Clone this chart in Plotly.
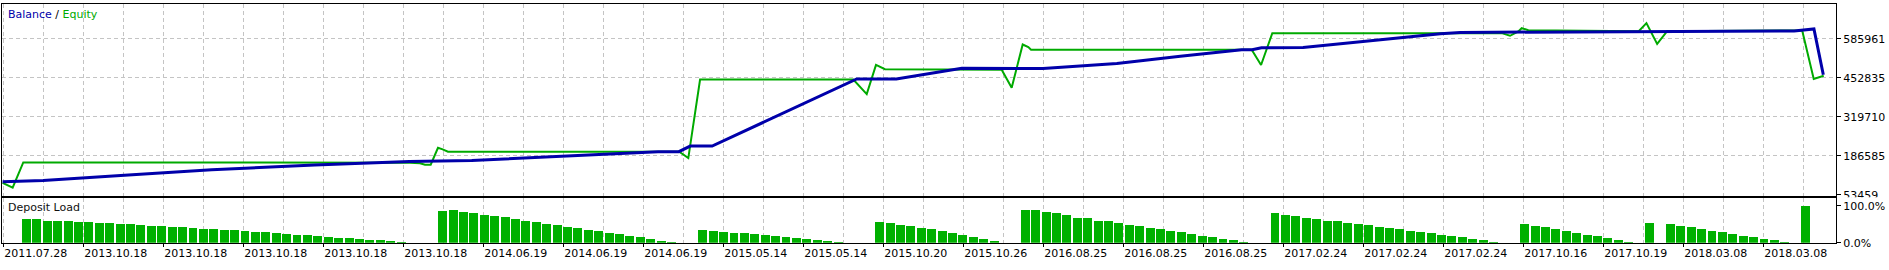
import numpy as np
import plotly.graph_objects as go

# ---------------- data ----------------
# x = deal slot index (one slot per deposit-load bar)
bal_x = [-2.3, 1.6, 9.8, 17.8, 27.7, 34.8, 36.8, 42.8, 50.8, 56.7, 60.7, 62.7, 63.8, 65.9,
         79.8, 83.6, 87.8, 89.9, 97.7, 104.8, 110.9, 116.8, 117.8, 118.7, 122.7, 128.8,
         135.9, 137.8, 147.4, 151.7, 169.9, 171.8, 172.7]
bal_y = [98500, 102000, 121000, 139000, 155600, 164300, 167600, 170900, 184300, 194200,
         200900, 200900, 219900, 219900, 449500, 449500, 475100, 486100, 485000, 501800,
         527100, 549400, 549400, 556000, 557000, 579300, 603600, 608300, 610300, 611600,
         613600, 620200, 463800]

eq_x = [-2.3, -1.33, -0.31, 34.75, 36.86, 37.82, 38.30, 38.85, 39.55, 40.00, 40.51, 62.74,
        63.61, 64.74, 79.47, 80.76, 81.65, 82.51, 93.73, 94.69, 95.75, 96.29, 96.55, 117.76,
        118.66, 119.74, 141.79, 142.59, 143.39, 143.71, 144.35, 154.96, 155.70, 156.73,
        157.69, 170.67, 171.78, 172.74]
eq_y = [94400, 77800, 164300, 164300, 163300, 161000, 156600, 156600, 214200, 208900,
        200900, 200900, 178900, 447200, 447200, 397300, 497100, 482800, 480500, 419600,
        567000, 558300, 549400, 549400, 497100, 605900, 605900, 596900, 611600, 622600,
        615900, 612600, 640200, 569300, 612600, 614900, 449500, 460500]

deposit_load = (
    [64, 64, 61, 59, 59, 57, 56, 53, 53, 51, 51, 48, 46, 46, 43, 43, 40, 38, 38, 35, 35, 32,
     30, 30, 27, 24, 22, 22, 19, 17, 14, 14, 11, 9, 9, 6, 3.5]
    + [0, 0, 0]
    + [88, 90, 85, 82, 77, 72, 70, 64, 61, 56, 51, 48, 43, 40, 35, 32, 27, 25, 19, 17, 11, 6, 3.5]
    + [0, 0]
    + [35, 32, 30, 27, 27, 24, 22, 19, 17, 14, 11, 9, 6, 3.5]
    + [0, 0, 0]
    + [56, 53, 48, 46, 40, 38, 32, 27, 22, 17, 11, 6]
    + [0, 0]
    + [90, 90, 85, 80, 75, 69, 67, 61, 59, 54, 48, 46, 40, 38, 32, 30, 25, 19, 17, 11, 9, 3.5]
    + [0, 0]
    + [80, 77, 72, 69, 64, 61, 59, 54, 51, 48, 43, 40, 38, 32, 30, 27, 22, 19, 17, 11, 9, 3.5]
    + [0, 0]
    + [51, 46, 43, 38, 32, 27, 22, 19, 14, 9, 3.5]
    + [0, 54, 0]
    + [51, 46, 43, 38, 32, 30, 25, 19, 17, 11, 9, 3.5]
    + [0, 100]
)
load_x = list(range(len(deposit_load)))

y_tick_vals = [53459, 186585, 319710, 452835, 585961]
y_tick_text = ["53459", "186585", "319710", "452835", "585961"]

x_tick_text = ["2011.07.28", "2013.10.18", "2013.10.18", "2013.10.18", "2013.10.18",
               "2013.10.18", "2014.06.19", "2014.06.19", "2014.06.19", "2015.05.14",
               "2015.05.14", "2015.10.20", "2015.10.26", "2016.08.25", "2016.08.25",
               "2016.08.25", "2017.02.24", "2017.02.24", "2017.02.24", "2017.10.16",
               "2017.10.19", "2018.03.08", "2018.03.08"]

load_tick_vals = [0, 100]
load_tick_text = ["0.0%", "100.0%"]

# ---------------- layout geometry ----------------
W, H = 1889, 270
FONT = "DejaVu Sans"
BLUE = "#0000AA"
GREEN = "#00AA00"
BAR_GREEN = "#00B000"
GRID = "#C4C4C4"

x_range = [-2.355, 173.92]
grid_step = 3.8447
grid0 = -2.23
major_vals = [grid0 + 2 * grid_step * k for k in range(len(x_tick_text))]
minor_vals = [grid0 + grid_step * k for k in range(2 * len(x_tick_text) + 2)]

fig = go.Figure()
fig.add_trace(go.Scatter(x=eq_x, y=eq_y, mode="lines", line=dict(color=GREEN, width=2),
                         xaxis="x", yaxis="y", hoverinfo="skip"))
fig.add_trace(go.Scatter(x=bal_x, y=bal_y, mode="lines", line=dict(color=BLUE, width=3),
                         xaxis="x", yaxis="y", hoverinfo="skip"))
fig.add_trace(go.Bar(x=load_x, y=deposit_load, width=0.86, marker=dict(color=BAR_GREEN, line_width=0),
                     xaxis="x2", yaxis="y2", hoverinfo="skip"))

def py(px):
    return (H - px) / H

def pxx(px):
    return px / W

common_x = dict(range=x_range, showline=True, mirror=True, linecolor="black", linewidth=1,
                zeroline=False, showgrid=False,
                minor=dict(tickmode="array", tickvals=minor_vals, showgrid=True,
                           gridcolor=GRID, griddash="4px,3px", gridwidth=1, ticks=""),
                domain=[pxx(2), pxx(1836)])

fig.update_layout(
    width=W, height=H, margin=dict(l=0, r=0, t=0, b=0),
    paper_bgcolor="white", plot_bgcolor="white", showlegend=False, bargap=0,
    font=dict(family=FONT, size=11, color="black"),
    xaxis=dict(anchor="y", showticklabels=False, ticks="", **common_x),
    yaxis=dict(domain=[py(201), py(4)], range=[50131, 705774], side="right", anchor="x",
               tickmode="array", tickvals=y_tick_vals, ticktext=y_tick_text,
               ticks="outside", ticklen=4, tickcolor="black",
               showline=True, mirror=True, linecolor="black", linewidth=1,
               showgrid=True, gridcolor=GRID, griddash="4px,3px", gridwidth=1, zeroline=False,
               tickfont=dict(family=FONT, size=11, color="black")),
    xaxis2=dict(anchor="y2", matches="x", tickmode="array", tickvals=major_vals,
                ticktext=x_tick_text, ticks="outside", ticklen=3, tickcolor="black",
                ticklabelposition="outside right",
                tickfont=dict(family=FONT, size=11, color="black"), **common_x),
    yaxis2=dict(domain=[py(249.3), py(203)], range=[0, 121.8], side="right", anchor="x2",
                tickmode="array", tickvals=load_tick_vals, ticktext=load_tick_text,
                ticks="outside", ticklen=4, tickcolor="black",
                showline=True, mirror=True, linecolor="black", linewidth=1,
                showgrid=False, zeroline=False,
                tickfont=dict(family=FONT, size=11, color="black")),
    annotations=[
        dict(xref="paper", yref="paper", x=pxx(6), y=py(15), xanchor="left", yanchor="middle",
             showarrow=False, font=dict(family=FONT, size=11),
             text=f"<span style='color:{BLUE}'>Balance</span> / "
                  f"<span style='color:{GREEN}'>Equity</span>"),
        dict(xref="paper", yref="paper", x=pxx(6), y=py(213.5), xanchor="left", yanchor="middle",
             showarrow=False, font=dict(family=FONT, size=11, color="#101010"),
             text="Deposit Load"),
    ],
    shapes=[
        dict(type="rect", xref="paper", yref="paper", layer="above",
             x0=pxx(1837.5), x1=1.0, y0=py(205.3), y1=py(202.6),
             fillcolor="white", line=dict(width=0)),
    ],
)

fig.write_html("out.html")
